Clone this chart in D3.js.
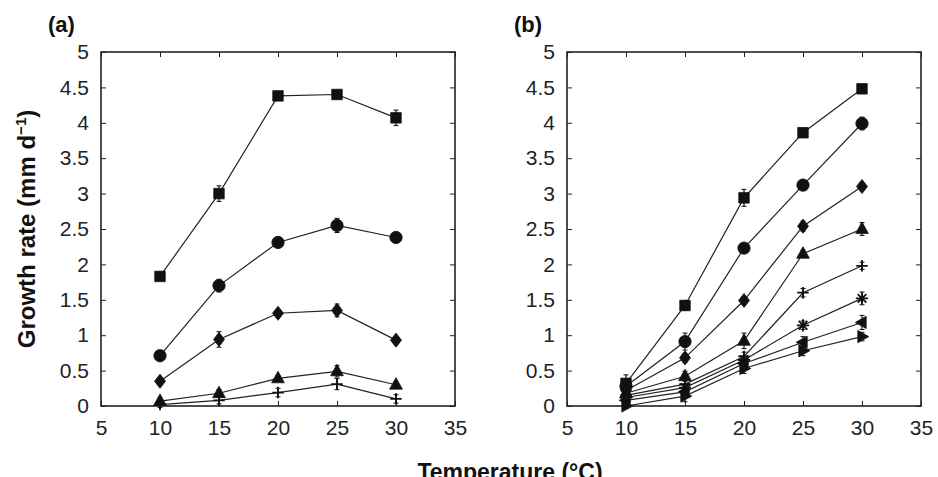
<!DOCTYPE html>
<html>
<head>
<meta charset="utf-8">
<script src="https://cdn.jsdelivr.net/npm/d3@7"></script>
<style>
  body { margin: 0; background: #fff; }
  svg { display: block; font-family: "Liberation Sans", Arial, Helvetica, sans-serif; }
  .tick text { font-size: 21px; fill: #222; }
</style>
</head>
<body>
<script>
// size variables
var width = 938, height = 477;

// data
var temps = [10, 15, 20, 25, 30];
var xTicks = [5, 10, 15, 20, 25, 30, 35];
var yTicks = [0, 0.5, 1, 1.5, 2, 2.5, 3, 3.5, 4, 4.5, 5];
var yTickLabels = ["0", "0.5", "1", "1.5", "2", "2.5", "3", "3.5", "4", "4.5", "5"];

// panel (a)
var aSquare   = [1.83, 3.00, 4.38, 4.40, 4.07];
var aCircle   = [0.71, 1.70, 2.31, 2.55, 2.38];
var aDiamond  = [0.35, 0.94, 1.31, 1.35, 0.93];
var aTriangle = [0.07, 0.18, 0.39, 0.49, 0.30];
var aPlus     = [0.02, 0.08, 0.19, 0.31, 0.10];
var aSquareErr   = [0.06, 0.11, 0.03, 0.05, 0.11];
var aCircleErr   = [0.03, 0.09, 0.03, 0.10, 0.04];
var aDiamondErr  = [0.05, 0.11, 0.05, 0.09, 0.04];
var aTriangleErr = [0.04, 0.05, 0.04, 0.08, 0.04];
var aPlusErr     = [0.04, 0.05, 0.06, 0.08, 0.06];

// panel (b)
var bSquare   = [0.32, 1.42, 2.94, 3.86, 4.48];
var bCircle   = [0.28, 0.91, 2.23, 3.12, 3.99];
var bDiamond  = [0.22, 0.68, 1.49, 2.54, 3.10];
var bTriangle = [0.18, 0.42, 0.92, 2.15, 2.50];
var bPlus     = [0.15, 0.31, 0.70, 1.60, 1.98];
var bStar     = [0.12, 0.26, 0.65, 1.14, 1.52];
var bLeftTri  = [0.08, 0.20, 0.60, 0.90, 1.18];
var bRightTri = [0.00, 0.14, 0.53, 0.78, 0.98];
var bSquareErr   = [0.12, 0.07, 0.12, 0.05, 0.03];
var bCircleErr   = [0.06, 0.12, 0.04, 0.07, 0.09];
var bDiamondErr  = [0.06, 0.06, 0.05, 0.07, 0.05];
var bTriangleErr = [0.05, 0.07, 0.11, 0.05, 0.09];
var bPlusErr     = [0.04, 0.05, 0.06, 0.06, 0.05];
var bStarErr     = [0.04, 0.05, 0.06, 0.06, 0.09];
var bLeftTriErr  = [0.04, 0.05, 0.06, 0.08, 0.10];
var bRightTriErr = [0.03, 0.08, 0.07, 0.07, 0.06];

// custom marker shapes
var plusSym = { draw: function(c, s) { var r = Math.sqrt(s) / 2;
  c.moveTo(-r, 0); c.lineTo(r, 0); c.moveTo(0, -r); c.lineTo(0, r); } };
var starSym = { draw: function(c, s) { var r = Math.sqrt(s) / 2, k = r * 0.7071;
  c.moveTo(-r, 0); c.lineTo(r, 0); c.moveTo(0, -r); c.lineTo(0, r);
  c.moveTo(-k, -k); c.lineTo(k, k); c.moveTo(-k, k); c.lineTo(k, -k); } };
var diamondSym = { draw: function(c, s) { var h = Math.sqrt(s) * 0.62, w = h * 0.78;
  c.moveTo(0, -h); c.lineTo(w, 0); c.lineTo(0, h); c.lineTo(-w, 0); c.closePath(); } };
var triSym = function(dir) { return { draw: function(c, s) { var r = Math.sqrt(s) * 0.62;
  var pts = [[0, -r], [r * 0.9, r * 0.62], [-r * 0.9, r * 0.62]];
  pts = pts.map(function(p) {
    if (dir === "left") return [p[1], -p[0]];
    if (dir === "right") return [-p[1], p[0]];
    return p; });
  c.moveTo(pts[0][0], pts[0][1]); c.lineTo(pts[1][0], pts[1][1]); c.lineTo(pts[2][0], pts[2][1]); c.closePath(); } }; };

var seriesA = [
  { vals: aSquare, err: aSquareErr, sym: d3.symbolSquare, size: 110, fill: true },
  { vals: aCircle, err: aCircleErr, sym: d3.symbolCircle, size: 120, fill: true },
  { vals: aDiamond, err: aDiamondErr, sym: diamondSym, size: 130, fill: true },
  { vals: aTriangle, err: aTriangleErr, sym: triSym("up"), size: 130, fill: true },
  { vals: aPlus, err: aPlusErr, sym: plusSym, size: 130, fill: false }
];
var seriesB = [
  { vals: bSquare, err: bSquareErr, sym: d3.symbolSquare, size: 110, fill: true },
  { vals: bCircle, err: bCircleErr, sym: d3.symbolCircle, size: 120, fill: true },
  { vals: bDiamond, err: bDiamondErr, sym: diamondSym, size: 130, fill: true },
  { vals: bTriangle, err: bTriangleErr, sym: triSym("up"), size: 130, fill: true },
  { vals: bPlus, err: bPlusErr, sym: plusSym, size: 130, fill: false },
  { vals: bStar, err: bStarErr, sym: starSym, size: 150, fill: false },
  { vals: bLeftTri, err: bLeftTriErr, sym: triSym("left"), size: 120, fill: true },
  { vals: bRightTri, err: bRightTriErr, sym: triSym("right"), size: 120, fill: true }
];

var svg = d3.select('body').append('svg').attr('width', width).attr('height', height);

function drawPanel(left, right, top, bottom, series, tag) {
  var x = d3.scaleLinear().domain([5, 35]).range([left, right]);
  var y = d3.scaleLinear().domain([0, 5]).range([bottom, top]);
  var g = svg.append('g');

  // axes, ticks inward on all four sides
  g.append('g').attr('transform', 'translate(0,' + bottom + ')')
    .call(d3.axisBottom(x).tickValues(xTicks).tickSizeInner(-5).tickSizeOuter(0).tickPadding(14));
  g.append('g').attr('transform', 'translate(0,' + top + ')')
    .call(d3.axisTop(x).tickValues(xTicks).tickSizeInner(-5).tickSizeOuter(0).tickFormat(''));
  g.append('g').attr('transform', 'translate(' + left + ',0)')
    .call(d3.axisLeft(y).tickValues(yTicks).tickSizeInner(-5).tickSizeOuter(0).tickPadding(12)
      .tickFormat(function(d, i) { return yTickLabels[i]; }));
  g.append('g').attr('transform', 'translate(' + right + ',0)')
    .call(d3.axisRight(y).tickValues(yTicks).tickSizeInner(-5).tickSizeOuter(0).tickFormat(''));
  g.selectAll('.domain').remove();
  g.selectAll('.tick line').attr('stroke', '#222');
  g.append('rect').attr('x', left).attr('y', top).attr('width', right - left).attr('height', bottom - top)
    .attr('fill', 'none').attr('stroke', '#222').attr('stroke-width', 1.6);

  var line = d3.line().x(function(d, i) { return x(temps[i]); }).y(function(d) { return y(d); });

  series.forEach(function(s) {
    g.append('path').datum(s.vals).attr('d', line)
      .attr('fill', 'none').attr('stroke', '#222').attr('stroke-width', 1.2);
  });
  series.forEach(function(s) {
    var sg = g.append('g');
    // error bars
    sg.selectAll('line.err').data(s.vals).join('line').attr('class', 'err')
      .attr('x1', function(d, i) { return x(temps[i]); })
      .attr('x2', function(d, i) { return x(temps[i]); })
      .attr('y1', function(d, i) { return y(d - s.err[i]); })
      .attr('y2', function(d, i) { return y(d + s.err[i]); })
      .attr('stroke', '#111').attr('stroke-width', 1.2);
    sg.selectAll('path.cap').data(s.vals).join('path').attr('class', 'cap')
      .attr('d', function(d, i) {
        var cx = x(temps[i]);
        return 'M' + (cx - 2.5) + ',' + y(d + s.err[i]) + 'h5M' + (cx - 2.5) + ',' + y(d - s.err[i]) + 'h5';
      })
      .attr('stroke', '#111').attr('stroke-width', 1);
    // markers
    sg.selectAll('path.mk').data(s.vals).join('path').attr('class', 'mk')
      .attr('transform', function(d, i) { return 'translate(' + x(temps[i]) + ',' + y(d) + ')'; })
      .attr('d', d3.symbol().type(s.sym).size(s.size))
      .attr('fill', s.fill ? '#111' : 'none')
      .attr('stroke', '#111').attr('stroke-width', s.fill ? 0.8 : 1.8);
  });

  svg.append('text').attr('x', left - 53).attr('y', 32)
    .attr('font-size', 22).attr('font-weight', 'bold').attr('fill', '#111').text(tag);
}

drawPanel(101, 455, 52, 406, seriesA, '(a)');
drawPanel(567, 921, 52, 406, seriesB, '(b)');

// axis titles
svg.append('text').attr('transform', 'translate(35,229) rotate(-90)')
  .attr('text-anchor', 'middle').attr('font-size', 24).attr('font-weight', 'bold').attr('fill', '#111')
  .html('Growth rate (mm d<tspan dy="-9" font-size="15">\u22121</tspan><tspan dy="9">)</tspan>');
svg.append('text').attr('x', 510).attr('y', 480)
  .attr('text-anchor', 'middle').attr('font-size', 23).attr('font-weight', 'bold').attr('fill', '#111')
  .text('Temperature (\u00B0C)');
</script>
</body>
</html>
